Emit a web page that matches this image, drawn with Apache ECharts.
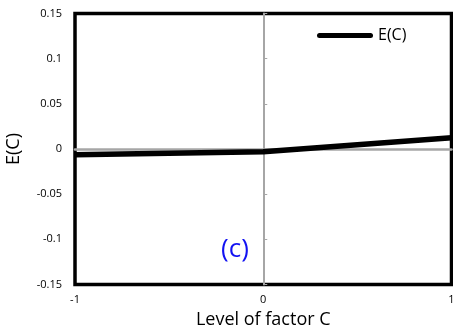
<!DOCTYPE html>
<html>
<head>
<meta charset="utf-8">
<script src="https://cdn.jsdelivr.net/npm/echarts@6/dist/echarts.min.js"></script>
<style>
  html, body { margin: 0; padding: 0; background: #fff; }
  #chart { width: 453px; height: 336px; }
</style>
</head>
<body>
<div id="chart"></div>
<script>
// Main effect of factor C at its three coded levels
const levels = [-1, 0, 1];
const effectC = [-0.0065, -0.003, 0.0125];
const yTicks = { min: -0.15, max: 0.15, step: 0.05 };
const xTicks = { min: -1, max: 1, step: 1 };
const seriesName = 'E(C)';
const xTitle = 'Level of factor C';
const yTitle = 'E(C)';
const panelTag = '(c)';

const FONT = '"Open Sans", sans-serif';
const ZERO_GREY = '#a6a6a6';

const chart = echarts.init(document.getElementById('chart'), null, { renderer: 'canvas' });

const fmtY = v => {
  const r = Math.round(v * 100) / 100;
  return r === 0 ? '0' : String(r);
};

// thick line with rounded ends for the legend key
const legendKey = 'path://M2.5,0 L53.5,0 A2.5,2.5 0 0 1 53.5,5 L2.5,5 A2.5,2.5 0 0 1 2.5,0 Z';

chart.setOption({
  animation: false,
  backgroundColor: '#fff',
  grid: {
    left: 75, right: 1.5, top: 13.5, bottom: 51.5,
    outerBoundsMode: 'none', containLabel: false,
    show: true, borderColor: '#000', borderWidth: 3.5, backgroundColor: 'transparent'
  },
  legend: {
    data: [{ name: seriesName, icon: legendKey }],
    left: 312, top: 22.5,
    itemWidth: 56, itemHeight: 5,
    textStyle: { fontFamily: FONT, fontSize: 16, color: '#000' }
  },
  xAxis: [
    {
      type: 'value', min: xTicks.min, max: xTicks.max, interval: xTicks.step,
      axisLine: { show: false, onZero: false },
      axisTick: { show: false },
      splitLine: { show: false },
      axisLabel: { fontFamily: FONT, fontSize: 11, color: '#000', margin: 10 },
      name: xTitle, nameLocation: 'middle', nameGap: 26,
      nameTextStyle: { fontFamily: FONT, fontSize: 18, color: '#000' }
    },
    {
      type: 'value', min: xTicks.min, max: xTicks.max, interval: xTicks.step,
      axisLine: { show: true, onZero: true, lineStyle: { color: ZERO_GREY, width: 2.5 } },
      axisTick: { show: false },
      axisLabel: { show: false },
      splitLine: { show: false }
    }
  ],
  yAxis: [
    {
      type: 'value', min: yTicks.min, max: yTicks.max, interval: yTicks.step,
      axisLine: { show: false, onZero: false },
      axisTick: { show: false },
      splitLine: { show: false },
      axisLabel: { fontFamily: FONT, fontSize: 11, color: '#000', margin: 13, formatter: fmtY },
      name: yTitle, nameLocation: 'middle', nameGap: 52,
      nameTextStyle: { fontFamily: FONT, fontSize: 18, color: '#000' }
    },
    {
      type: 'value', min: yTicks.min, max: yTicks.max, interval: yTicks.step,
      axisLine: { show: true, onZero: true, lineStyle: { color: ZERO_GREY, width: 2 } },
      axisTick: { show: true, inside: false, length: 4, lineStyle: { color: ZERO_GREY, width: 1 } },
      axisLabel: { show: false },
      splitLine: { show: false }
    }
  ],
  graphic: [
    {
      type: 'text', x: 235, y: 250,
      style: {
        text: panelTag, fill: '#1212f2', font: '26px ' + FONT,
        align: 'center', verticalAlign: 'middle'
      }
    }
  ],
  series: [
    {
      name: seriesName, type: 'line',
      xAxisIndex: 0, yAxisIndex: 0,
      data: levels.map((x, i) => [x, effectC[i]]),
      showSymbol: false, symbol: 'none',
      lineStyle: { color: '#000', width: 5.5 },
      itemStyle: { color: '#000' },
      z: 5
    }
  ]
});
</script>
</body>
</html>
